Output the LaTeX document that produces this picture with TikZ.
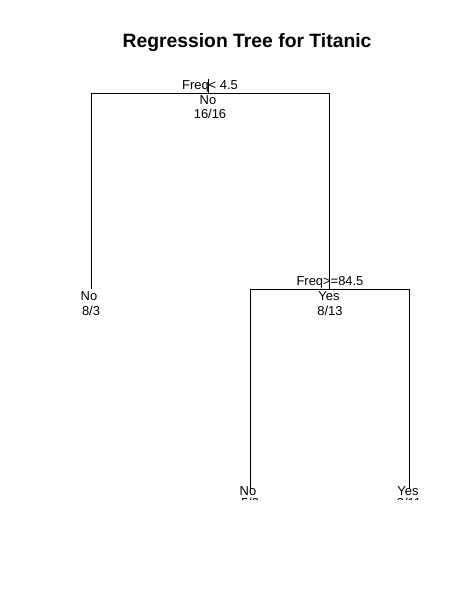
\documentclass[tikz,border=0pt]{standalone}
\usepackage{fontspec}
\setmainfont{Liberation Sans}
\usepackage{tikz}
\usetikzlibrary{positioning}

\begin{document}
\begin{tikzpicture}[x=0.75pt, y=-0.75pt, every node/.style={font=\fontsize{9.7}{11}\selectfont, inner sep=0pt},
  branch/.style={draw=black, line width=0.75pt}]
  \useasboundingbox[fill=white] (0,0) rectangle (463,599);

  % Title
  \node[font=\fontsize{14.5}{17}\selectfont\bfseries] (title) at (247,43) {Regression Tree for Titanic};

  % Split points
  \coordinate (top) at (208.5,79);
  \coordinate (root) at (208.5,94);
  \coordinate (s2) at (329.5,289);
  \coordinate (leafA) at (91,289);
  \coordinate (leafB) at (250,489);
  \coordinate (leafC) at (409,489);

  % Branches
  \draw[branch] (top) -- (root);
  \draw[branch] (root) -| (leafA);
  \draw[branch] (root) -| (s2);
  \draw[branch] (s2) -| (leafB);
  \draw[branch] (s2) -| (leafC);

  % Root labels
  \node (rsplit) at (210,86) {Freq< 4.5};
  \node (rclass) at (208,100) {No};
  \node (rcount) at (210,114) {16/16};

  % Left leaf
  \node (aclass) at (89,296) {No};
  \node (acount) at (91,311) {8/3};

  % Second split
  \node (ssplit) at (330,282) {Freq>=84.5};
  \node (sclass) at (329,296) {Yes};
  \node (scount) at (330,311) {8/13};

  % Bottom leaves, cut off by the plot region
  \begin{scope}
    \clip (0,0) rectangle (463,499);
    \node (bclass) at (248,491) {No};
    \node (bcount) at (250,503) {5/2};
    \node (cclass) at (408,491) {Yes};
    \node (ccount) at (409,503) {3/11};
  \end{scope}
\end{tikzpicture}
\end{document}
